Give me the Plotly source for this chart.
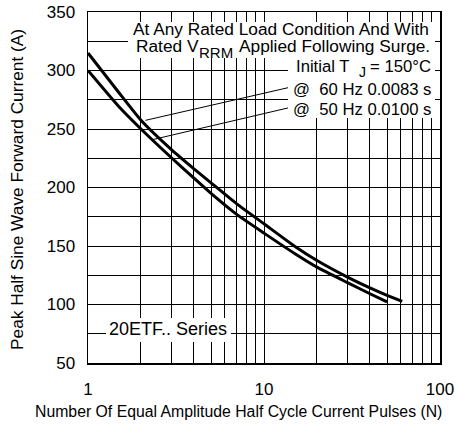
import plotly.graph_objects as go

# --- data ---
n_60hz = [1, 1.5, 2, 3, 4, 5, 7, 10, 15, 20, 30, 40, 50, 61]
a_60hz = [315, 281, 257.5, 232, 216, 204, 186, 169, 149.6, 137.6, 123.2, 114.2, 107.8, 102.6]

n_50hz = [1, 1.5, 2, 3, 4, 5, 7, 10, 15, 20, 30, 40, 50]
a_50hz = [300, 269, 250, 225, 208, 195, 177, 161, 143.4, 131.9, 118.5, 109.2, 102.2]

x_major = [1, 10, 100]
x_minor = [2, 3, 4, 5, 6, 7, 8, 9, 20, 30, 40, 50, 60, 70, 80, 90]
y_major = [50, 100, 150, 200, 250, 300, 350]
y_minor = [75, 125, 175, 225, 275, 325]

# leader lines (from text to curves)
lead60_n = [13.7, 2.12]
lead60_a = [285.3, 257.4]
lead50_n = [13.7, 2.31]
lead50_a = [268.0, 240.8]

FONT = "Arial, Liberation Sans, Helvetica, sans-serif"

W, H = 456, 427
L, R, T, B = 88, 16, 12, 64
pw, ph = W - L - R, H - T - B


def px(xpix):
    return (xpix - L) / pw


def py(ypix):
    return (H - B - ypix) / ph


fig = go.Figure()
fig.add_trace(go.Scatter(x=n_60hz, y=a_60hz, mode="lines",
                         line=dict(color="black", width=3, shape="spline", smoothing=0.5),
                         showlegend=False, hoverinfo="skip"))
fig.add_trace(go.Scatter(x=n_50hz, y=a_50hz, mode="lines",
                         line=dict(color="black", width=3, shape="spline", smoothing=0.5),
                         showlegend=False, hoverinfo="skip"))
fig.add_trace(go.Scatter(x=lead60_n, y=lead60_a, mode="lines",
                         line=dict(color="black", width=1), showlegend=False, hoverinfo="skip"))
fig.add_trace(go.Scatter(x=lead50_n, y=lead50_a, mode="lines",
                         line=dict(color="black", width=1), showlegend=False, hoverinfo="skip"))

# white boxes behind texts
boxes = [(128, 22, 435, 58), (288, 58, 435, 118), (106, 318, 231, 342)]
for x0, y0, x1, y1 in boxes:
    fig.add_shape(type="rect", xref="paper", yref="paper",
                  x0=px(x0), x1=px(x1), y0=py(y1), y1=py(y0),
                  fillcolor="white", line=dict(width=0), layer="above")

# (text, x, anchor, y-center, size)
texts = [
    ("At Any Rated Load Condition And With", 431, "right", 28.5, 17.3),
    ("Rated V", 134, "left", 46, 17.3),
    ("RRM", 197, "left", 53, 15),
    ("Applied Following Surge.", 432, "right", 46, 17.3),
    ("Initial T", 352, "right", 66, 16.7),
    ("J", 357, "left", 72, 14),
    ("= 150°C", 433, "right", 66, 16.7),
    ("@  60 Hz 0.0083 s", 433, "right", 89, 16.7),
    ("@  50 Hz 0.0100 s", 433, "right", 109, 16.7),
    ("20ETF.. Series", 107, "left", 329, 18),
]
for txt, xr, anc, yc, sz in texts:
    fig.add_annotation(text=txt, xref="paper", yref="paper", x=px(xr), y=py(yc),
                       xanchor=anc, yanchor="middle", showarrow=False,
                       font=dict(family=FONT, size=sz, color="black"))

# axis titles
fig.add_annotation(text="Peak Half Sine Wave Forward Current (A)", xref="paper", yref="paper",
                   x=px(17), y=py(190), textangle=-90, showarrow=False,
                   xanchor="center", yanchor="middle",
                   font=dict(family=FONT, size=17.3, color="black"))
fig.add_annotation(text="Number Of Equal Amplitude Half Cycle Current Pulses (N)",
                   xref="paper", yref="paper", x=px(238), y=py(411), showarrow=False,
                   xanchor="center", yanchor="middle",
                   font=dict(family=FONT, size=15.8, color="black"))

fig.update_xaxes(type="log", range=[0, 2], tickvals=x_major,
                 showgrid=True, gridcolor="black", gridwidth=1,
                 minor=dict(tickvals=x_minor, showgrid=True, gridcolor="black", gridwidth=1, ticks=""),
                 showline=True, linecolor="black", linewidth=1.5, mirror=True,
                 ticks="", ticklabelstandoff=10, zeroline=False, ticklabeloverflow="allow",
                 tickfont=dict(family=FONT, size=17, color="black"))
fig.update_yaxes(range=[50, 350], tickvals=y_major,
                 showgrid=True, gridcolor="black", gridwidth=1,
                 minor=dict(tickvals=y_minor, showgrid=True, gridcolor="black", gridwidth=1, ticks=""),
                 showline=True, linecolor="black", linewidth=1.5, mirror=True,
                 ticks="", ticklabelstandoff=8, zeroline=False, ticklabeloverflow="allow",
                 tickfont=dict(family=FONT, size=17, color="black"))

fig.update_layout(width=W, height=H, margin=dict(l=L, r=R, t=T, b=B, autoexpand=False),
                  paper_bgcolor="white", plot_bgcolor="white", showlegend=False)

fig.write_html("out.html", config={"displayModeBar": False, "staticPlot": True},
               post_script="document.body.style.margin='0px';document.body.style.overflow='hidden';")
